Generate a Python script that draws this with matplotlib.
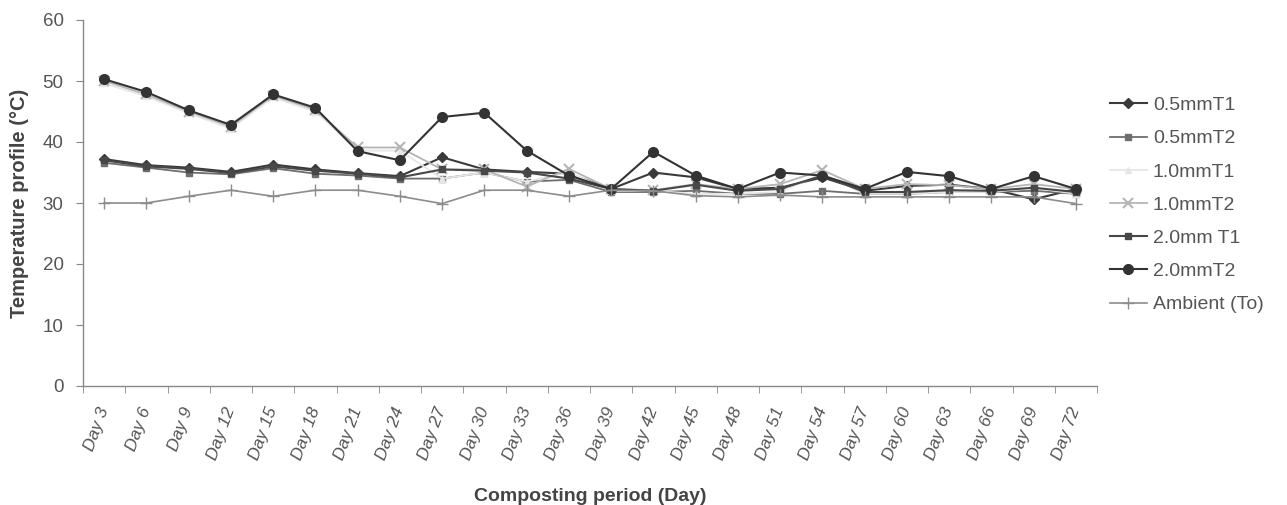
import matplotlib
matplotlib.use("Agg")
import matplotlib.pyplot as plt
import numpy as np

plt.rcParams['font.family'] = ['Liberation Sans', 'DejaVu Sans']

days = [3, 6, 9, 12, 15, 18, 21, 24, 27, 30, 33, 36, 39, 42, 45, 48, 51, 54, 57, 60, 63, 66, 69, 72]
day_labels = [f"Day {d}" for d in days]

series_names = ["0.5mmT1", "0.5mmT2", "1.0mmT1", "1.0mmT2", "2.0mm T1", "2.0mmT2", "Ambient (To)"]

t05_1 = [37.2, 36.2, 35.8, 35.1, 36.3, 35.5, 34.9, 34.4, 37.5, 35.5, 35.1, 34.8, 32.3, 35.0, 34.2, 32.3, 32.5, 34.2, 32.0, 32.8, 33.0, 32.3, 30.6, 32.3]
t05_2 = [36.6, 35.8, 35.0, 34.7, 35.7, 34.8, 34.5, 34.0, 34.0, 35.0, 33.5, 33.8, 31.8, 31.8, 32.0, 31.5, 31.5, 32.0, 31.5, 31.5, 31.8, 31.8, 32.0, 31.5]
t10_1 = [49.6, 47.5, 44.7, 42.2, 47.3, 45.0, 38.6, 38.6, 34.0, 35.0, 33.5, 35.0, 32.0, 32.0, 31.5, 31.5, 31.8, 34.8, 31.5, 31.5, 31.8, 31.8, 32.5, 31.5]
t10_2 = [50.0, 47.8, 45.0, 42.5, 47.6, 45.3, 39.1, 39.1, 35.5, 35.5, 32.7, 35.6, 32.3, 32.1, 33.1, 32.3, 33.1, 35.4, 32.3, 33.1, 32.9, 32.3, 33.1, 32.3]
t20_1 = [37.0, 36.0, 35.6, 34.9, 36.0, 35.3, 34.8, 34.2, 35.5, 35.3, 35.0, 34.0, 32.3, 32.0, 33.0, 32.0, 32.3, 34.5, 31.8, 31.8, 32.1, 32.0, 32.5, 31.8]
t20_2 = [50.3, 48.2, 45.2, 42.8, 47.8, 45.6, 38.5, 37.0, 44.1, 44.8, 38.6, 34.5, 32.3, 38.4, 34.5, 32.3, 35.0, 34.5, 32.3, 35.1, 34.4, 32.3, 34.4, 32.3]
ambient = [30.0, 30.0, 31.1, 32.1, 31.1, 32.1, 32.1, 31.1, 29.9, 32.1, 32.1, 31.1, 32.1, 32.0, 31.2, 31.0, 31.3, 31.0, 31.0, 31.0, 31.0, 31.0, 31.0, 29.9]

yticks = [0, 10, 20, 30, 40, 50, 60]

data = [t05_1, t05_2, t10_1, t10_2, t20_1, t20_2, ambient]
styles = [
    dict(color="#3a3a3a", marker="D", ms=5, lw=1.5),
    dict(color="#6e6e6e", marker="s", ms=4, lw=1.3),
    dict(color="#e6e6e6", marker="^", ms=5, lw=1.3),
    dict(color="#b5b5b5", marker="x", ms=7, lw=1.3, mew=1.5),
    dict(color="#484848", marker="s", ms=4, lw=1.5),
    dict(color="#333333", marker="o", ms=7, lw=1.5),
    dict(color="#8c8c8c", marker="+", ms=8, lw=1.2, mew=1.0),
]

fig = plt.figure(figsize=(12.87, 5.05), dpi=100)
ax = fig.add_axes([83/1287, 1-386/505, (1097-83)/1287, (386-20)/505])

x = np.arange(len(days))
handles = []
for name, vals, st in zip(series_names, data, styles):
    h, = ax.plot(x, vals, label=name, **st)
    handles.append(h)

ax.set_xlim(-0.5, len(days) - 0.5)
ax.set_ylim(0, 60)
ax.set_yticks(yticks)
ax.set_yticklabels([str(v) for v in yticks])

ax.set_xticks(x)
ax.set_xticklabels(day_labels, rotation=70, ha='right', va='center',
                   rotation_mode='anchor', style='italic', fontsize=12.5, color="#555555")
ax.set_xticks(np.arange(-0.5, len(days), 1), minor=True)
ax.tick_params(axis='x', which='major', length=0, pad=16)
ax.tick_params(axis='x', which='minor', length=5, color="#888888", direction='out')
ax.tick_params(axis='y', length=5, color="#888888", direction='out', labelsize=13.5,
               labelcolor="#555555", pad=9)

for s in ['top', 'right']:
    ax.spines[s].set_visible(False)
for s in ['left', 'bottom']:
    ax.spines[s].set_color("#888888")
    ax.spines[s].set_linewidth(1.0)

ax.set_ylabel("Temperature profile (°C)", fontsize=14.5, fontweight='bold', color="#444444", labelpad=10)
ax.set_xlabel("Composting period (Day)", fontsize=14, fontweight='bold', color="#444444")
ax.xaxis.set_label_coords(0.5, -(488-386)/366)

leg = fig.legend(handles=handles, loc='center left', bbox_to_anchor=(1110/1287, 1-205/505),
                 frameon=False, fontsize=14, handlelength=1.9, labelspacing=0.8,
                 handletextpad=0.3, borderpad=0, borderaxespad=0)
for t in leg.get_texts():
    t.set_color("#555555")

fig.savefig("out.png", dpi=100)
